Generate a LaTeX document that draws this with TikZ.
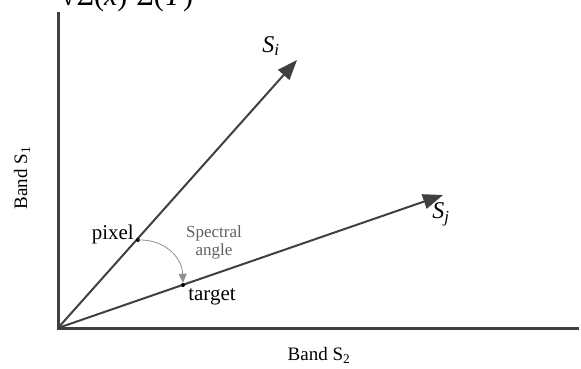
\documentclass[tikz,border=0pt]{standalone}
\usepackage{fontspec}
\setmainfont{Liberation Serif}
\usetikzlibrary{arrows.meta}
\definecolor{ln}{HTML}{404040}
\definecolor{lbl}{HTML}{606060}
\tikzset{
  axisline/.style={draw=ln,line width=3pt},
  vec/.style={draw=ln,line width=2pt,-{Triangle[length=20pt,width=15pt]}},
  dotpt/.style={circle,fill=black,inner sep=0pt,minimum size=4pt},
  lab/.style={font=\fontsize{19}{20}\selectfont,inner sep=0pt},
  biglab/.style={font=\fontsize{21}{22}\selectfont,inner sep=0pt},
  slab/.style={font=\fontsize{24}{24}\selectfont,inner sep=0pt},
  small/.style={font=\fontsize{17}{18}\selectfont,text=lbl,align=center,inner sep=0pt},
}
\begin{document}
\begin{tikzpicture}[x=1pt,y=-1pt]
\useasboundingbox (0,0) rectangle (581,368);
\clip (0,0) rectangle (581,368);
\node[anchor=base west,inner sep=0pt,font=\fontsize{30}{30}\selectfont] (formula) at (60,5) {√Σ(\textit{x})²Σ(\textit{Y})²};
\coordinate (O) at (58,328);
\coordinate (ytop) at (58,12);
\coordinate (xend) at (579,328);
\coordinate (Si) at (297,60);
\coordinate (Sj) at (443,195);
\draw[axisline] (ytop) -- (O.center) -- (xend);
\draw[vec] (O) -- (Si);
\draw[vec] (O) -- (Sj);
\node[dotpt] (px) at (138,240) {};
\node[dotpt] (tg) at (183,285) {};
\draw[draw=lbl!70,line width=0.8pt,-{Triangle[length=9pt,width=8pt]}] (px.center) .. controls (163,239) and (182,256) .. (tg.north);
\node[biglab,anchor=east] (pixel) at (134,234) {pixel};
\node[biglab] (target) at (212,297) {target};
\node[small] (spec) at (214,242) {Spectral\\angle};
\node[slab] (silab) at (271,46) {\textit{S\textsubscript{i}}};
\node[slab] (sjlab) at (441,214) {\textit{S\textsubscript{j}}};
\node[lab,rotate=90] (b1) at (22,178) {Band S\textsubscript{1}};
\node[lab] (b2) at (319,355) {Band S\textsubscript{2}};
\end{tikzpicture}
\end{document}
